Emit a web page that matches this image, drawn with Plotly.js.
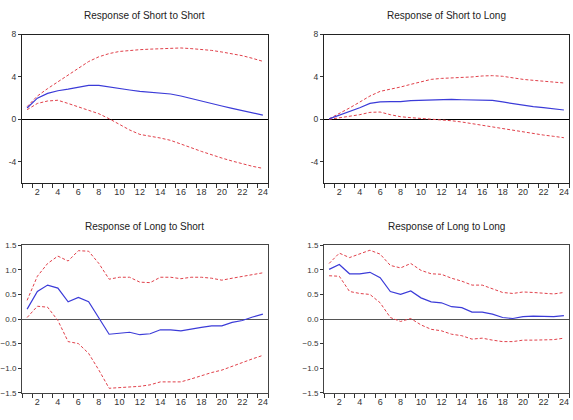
<!DOCTYPE html>
<html>
<head>
<meta charset="utf-8">
<script src="https://cdn.plot.ly/plotly-3.0.1.min.js"></script>
<style>
  html, body { margin: 0; padding: 0; background: #fff; }
  #chart { width: 573px; height: 420px; }
</style>
</head>
<body>
<div id="chart"></div>
<script>
// Impulse responses over 24 periods, with +/- 2 S.E. bands
const periods = [1,2,3,4,5,6,7,8,9,10,11,12,13,14,15,16,17,18,19,20,21,22,23,24];

const shortShort    = [1.07,2.0,2.45,2.7,2.85,3.0,3.2,3.2,3.08,2.95,2.77,2.64,2.55,2.48,2.39,2.2,1.95,1.7,1.45,1.26,1.04,0.82,0.6,0.4];
const shortShortUp  = [1.2,2.2,2.9,3.55,4.15,4.8,5.45,5.9,6.2,6.4,6.5,6.57,6.62,6.68,6.72,6.73,6.67,6.6,6.5,6.35,6.2,6.0,5.75,5.47];
const shortShortLo  = [0.91,1.5,1.73,1.8,1.5,1.16,0.88,0.53,0.06,-0.47,-1.0,-1.42,-1.57,-1.76,-1.98,-2.3,-2.67,-3.02,-3.36,-3.65,-3.93,-4.21,-4.43,-4.62];

const shortLong     = [0.05,0.38,0.72,1.1,1.5,1.65,1.68,1.67,1.76,1.79,1.89,1.9,1.89,1.85,1.82,1.82,1.79,1.64,1.48,1.32,1.2,1.1,1.0,0.88];
const shortLongUp   = [0.05,0.53,1.07,1.63,2.2,2.64,2.83,3.05,3.3,3.52,3.77,3.86,3.9,3.93,4.0,4.09,4.12,4.06,3.9,3.77,3.68,3.62,3.52,3.43];
const shortLongLo   = [0.0,0.13,0.25,0.44,0.66,0.69,0.44,0.25,0.16,0.09,0.03,-0.03,-0.13,-0.25,-0.41,-0.53,-0.66,-0.82,-1.0,-1.2,-1.35,-1.48,-1.6,-1.73];

const longShort     = [0.2,0.56,0.69,0.63,0.35,0.44,0.35,0.01,-0.31,-0.29,-0.27,-0.32,-0.3,-0.22,-0.22,-0.24,-0.2,-0.17,-0.14,-0.14,-0.07,-0.03,0.04,0.1];
const longShortUp   = [0.38,0.87,1.13,1.28,1.18,1.39,1.38,1.13,0.81,0.85,0.85,0.75,0.74,0.85,0.85,0.82,0.85,0.85,0.83,0.79,0.83,0.87,0.9,0.94];
const longShortLo   = [0.03,0.26,0.24,-0.03,-0.46,-0.5,-0.7,-1.04,-1.41,-1.4,-1.38,-1.37,-1.34,-1.28,-1.28,-1.28,-1.22,-1.15,-1.09,-1.04,-0.96,-0.88,-0.81,-0.74];

const longLong      = [1.01,1.11,0.92,0.92,0.95,0.84,0.56,0.5,0.57,0.43,0.35,0.33,0.25,0.23,0.14,0.14,0.1,0.03,0.01,0.05,0.06,0.05,0.05,0.07];
const longLongUp    = [1.13,1.34,1.25,1.32,1.4,1.32,1.09,1.04,1.13,0.99,0.92,0.91,0.83,0.77,0.69,0.69,0.62,0.54,0.52,0.55,0.54,0.52,0.51,0.54];
const longLongLo    = [0.88,0.87,0.56,0.52,0.5,0.33,0.03,-0.05,0.01,-0.12,-0.21,-0.24,-0.31,-0.34,-0.41,-0.39,-0.43,-0.46,-0.46,-0.43,-0.43,-0.43,-0.42,-0.39];

const panelTitles = ['Response of Short to Short', 'Response of Short to Long',
                     'Response of Long to Short', 'Response of Long to Long'];
const xTickVals = [2,4,6,8,10,12,14,16,18,20,22,24];

const panels = [
  { mid: shortShort, up: shortShortUp, lo: shortShortLo },
  { mid: shortLong,  up: shortLongUp,  lo: shortLongLo },
  { mid: longShort,  up: longShortUp,  lo: longShortLo },
  { mid: longLong,   up: longLongUp,   lo: longLongLo }
];

const W = 573, H = 420;
const xDom = [[22 / W, 268 / W], [324 / W, 569 / W]];
const yDomTop = [1 - 183 / H, 1 - 34.5 / H];
const yDomBot = [1 - 392.7 / H, 1 - 245.3 / H];

const blue = '#3b3bd8';
const red = '#e0404a';

const traces = [];
const layout = {
  width: W, height: H,
  margin: { l: 0, r: 0, t: 0, b: 0 },
  paper_bgcolor: '#fff', plot_bgcolor: '#fff',
  showlegend: false,
  font: { family: 'Liberation Sans, Arial, sans-serif', size: 9, color: '#333' },
  annotations: []
};

panels.forEach((p, i) => {
  const n = i + 1;
  const xa = 'x' + (n === 1 ? '' : n);
  const ya = 'y' + (n === 1 ? '' : n);
  traces.push({ x: periods, y: p.up, xaxis: xa, yaxis: ya, type: 'scatter', mode: 'lines',
                line: { color: red, width: 1, dash: '3px,2px' }, hoverinfo: 'skip' });
  traces.push({ x: periods, y: p.lo, xaxis: xa, yaxis: ya, type: 'scatter', mode: 'lines',
                line: { color: red, width: 1, dash: '3px,2px' }, hoverinfo: 'skip' });
  traces.push({ x: periods, y: p.mid, xaxis: xa, yaxis: ya, type: 'scatter', mode: 'lines',
                line: { color: blue, width: 1.2 } });

  const top = i < 2;
  const frame = top ? '#222' : '#444';
  layout['xaxis' + (n === 1 ? '' : n)] = {
    domain: xDom[i % 2], anchor: ya, range: [0.5, 24.5],
    tickvals: xTickVals, ticks: '', ticklen: 0,
    minor: { tick0: 0.5, dtick: 1, ticks: 'outside', ticklen: 4, tickcolor: '#333', showgrid: false },
    showgrid: false, zeroline: false, showline: true, mirror: true,
    linecolor: frame, linewidth: 1,
    tickfont: { size: 9, color: '#333' }
  };
  layout['yaxis' + (n === 1 ? '' : n)] = top ? {
    domain: yDomTop, anchor: xa, range: [-6, 8],
    tickvals: [-4, 0, 4, 8], ticktext: ['-4', '0', '4', '8'],
    ticks: 'outside', ticklen: 3, tickcolor: '#333',
    showgrid: false, zeroline: true, zerolinecolor: '#000', zerolinewidth: 1,
    showline: true, mirror: true, linecolor: frame, linewidth: 1,
    tickfont: { size: 8.5, color: '#333' }
  } : {
    domain: yDomBot, anchor: xa, range: [-1.5, 1.5],
    tickvals: [-1.5, -1.0, -0.5, 0, 0.5, 1.0, 1.5], tickformat: '.1f',
    ticks: 'outside', ticklen: 3, tickcolor: '#333',
    showgrid: false, zeroline: true, zerolinecolor: '#555', zerolinewidth: 1,
    showline: true, mirror: true, linecolor: frame, linewidth: 1,
    tickfont: { size: 8, color: '#333' }
  };

  const dom = xDom[i % 2];
  layout.annotations.push({
    text: panelTitles[i], xref: 'paper', yref: 'paper',
    x: (dom[0] + dom[1]) / 2, y: top ? 1 - 15.7 / H : 1 - 226.7 / H,
    xanchor: 'center', yanchor: 'middle', showarrow: false,
    font: { size: 10, color: '#222', family: 'Liberation Sans, Arial, sans-serif' }
  });
});

Plotly.newPlot('chart', traces, layout, { displayModeBar: false, staticPlot: true });
</script>
</body>
</html>
